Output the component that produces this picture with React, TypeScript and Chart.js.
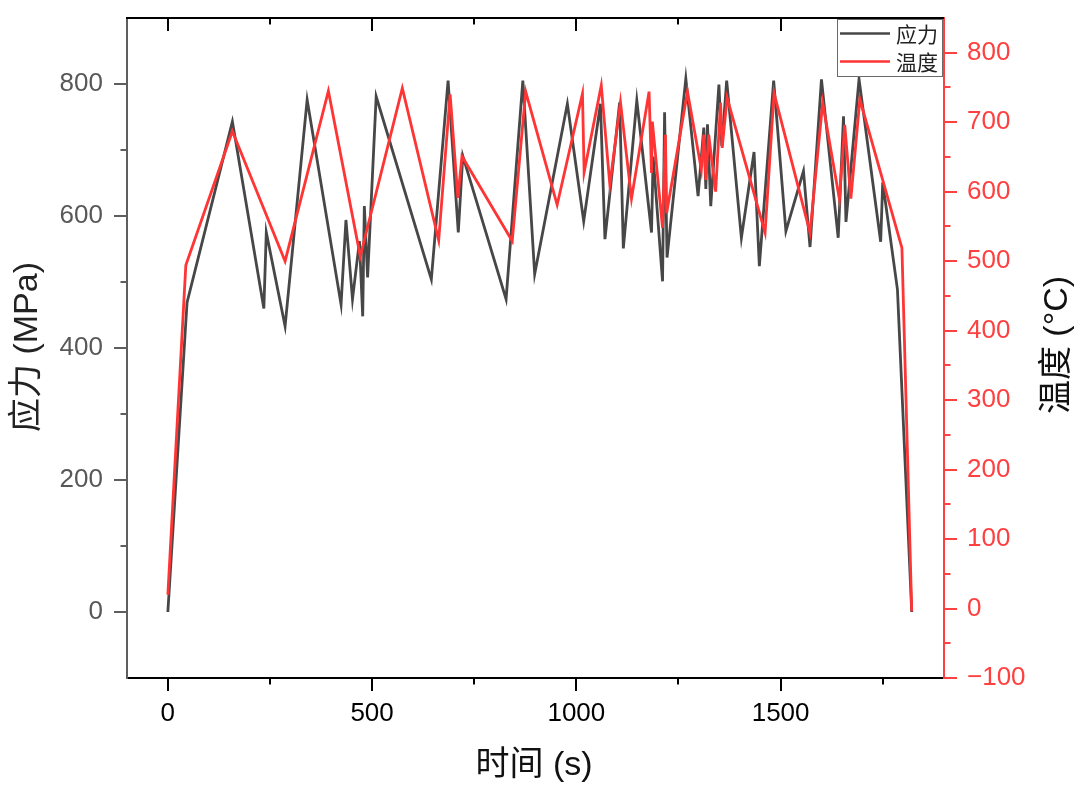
import React, { useEffect, useRef } from 'react';
import { Chart, registerables } from 'chart.js';

Chart.register(...registerables);

// Stress record: time (s) and stress (MPa)
const stressTime = [0, 47, 158, 235, 241, 287, 341, 424, 436, 452, 469, 477, 481, 489, 510, 645, 686, 711, 722, 828, 869, 898, 978, 1018, 1059, 1070, 1106, 1115, 1148, 1184, 1188, 1211, 1216, 1222, 1268, 1298, 1312, 1317, 1321, 1329, 1349, 1356, 1368, 1404, 1435, 1448, 1483, 1513, 1556, 1572, 1600, 1641, 1654, 1660, 1692, 1745, 1750, 1786, 1821];
const stressValues = [0, 469, 743, 460, 575, 433, 776, 466, 594, 474, 562, 448, 615, 507, 781, 504, 805, 575, 691, 474, 805, 512, 770, 592, 770, 565, 772, 551, 775, 575, 690, 501, 757, 537, 808, 630, 734, 641, 739, 615, 799, 706, 805, 567, 697, 524, 805, 577, 668, 553, 807, 567, 751, 591, 807, 561, 651, 489, 0];

// Temperature record: time (s) and temperature (°C)
const tempTime = [0, 44, 158, 287, 393, 471, 574, 663, 691, 710, 720, 843, 876, 953, 1015, 1019, 1061, 1082, 1108, 1135, 1178, 1184, 1186, 1211, 1218, 1221, 1272, 1306, 1312, 1317, 1324, 1341, 1353, 1357, 1369, 1462, 1484, 1572, 1603, 1644, 1657, 1672, 1694, 1797, 1821];
const tempValues = [20, 494, 687, 500, 745, 507, 749, 530, 740, 591, 651, 529, 744, 581, 741, 628, 753, 610, 729, 590, 744, 627, 701, 548, 682, 569, 744, 632, 682, 617, 682, 600, 728, 663, 735, 541, 742, 541, 728, 589, 696, 590, 733, 519, -4];

// Axis ticks
const timeMajorTicks = [0, 500, 1000, 1500];
const timeMinorTicks = [250, 750, 1250, 1750];
const stressMajorTicks = [0, 200, 400, 600, 800];
const stressMinorTicks = [100, 300, 500, 700];
const tempMajorTicks = [-100, 0, 100, 200, 300, 400, 500, 600, 700, 800];
const tempMinorTicks = [-50, 50, 150, 250, 350, 450, 550, 650, 750];

const seriesNames = ['应力', '温度'];
const titleStress = '应力 (MPa)';
const titleTemp = '温度 (°C)';
const titleTime = '时间 (s)';

const STRESS_COLOR = '#474747';
const TEMP_COLOR = '#ff3535';
const LEFT_AXIS_COLOR = '#5e5e5e';
const RIGHT_AXIS_COLOR = '#ff4040';
const LATIN = "'Liberation Sans', Arial, 'Noto Sans CJK SC', sans-serif";
const CJK = "'Noto Sans CJK SC', 'Liberation Sans', sans-serif";

const MAJOR_LEN = 13;
const MINOR_LEN = 6.5;

const frame = {
  id: 'frame',
  afterDraw(chart: any) {
    const { ctx, chartArea: a, scales } = chart;
    const xs = scales.x;
    const yl = scales.y;
    const yr = scales.y1;
    const seg = (x1: number, y1: number, x2: number, y2: number) => {
      ctx.beginPath();
      ctx.moveTo(x1, y1);
      ctx.lineTo(x2, y2);
      ctx.stroke();
    };
    ctx.save();
    ctx.lineWidth = 2;

    // top frame line and time ticks (outward at bottom, inward at top)
    ctx.strokeStyle = '#000';
    seg(a.left - 1, a.top, a.right, a.top);
    const drawTime = (vals: number[], len: number) => {
      vals.forEach((v) => {
        const p = Math.round(xs.getPixelForValue(v));
        seg(p, a.bottom, p, a.bottom + len);
        seg(p, a.top, p, a.top + len);
      });
    };
    drawTime(timeMajorTicks, MAJOR_LEN);
    drawTime(timeMinorTicks, MINOR_LEN);

    // stress ticks
    ctx.strokeStyle = LEFT_AXIS_COLOR;
    stressMajorTicks.forEach((v) => {
      const p = Math.round(yl.getPixelForValue(v));
      seg(a.left, p, a.left - MAJOR_LEN, p);
    });
    stressMinorTicks.forEach((v) => {
      const p = Math.round(yl.getPixelForValue(v));
      seg(a.left, p, a.left - MINOR_LEN, p);
    });

    // temperature ticks
    ctx.strokeStyle = RIGHT_AXIS_COLOR;
    tempMajorTicks.forEach((v) => {
      const p = Math.round(yr.getPixelForValue(v));
      seg(a.right, p, a.right + MAJOR_LEN, p);
    });
    tempMinorTicks.forEach((v) => {
      const p = Math.round(yr.getPixelForValue(v));
      seg(a.right, p, a.right + MINOR_LEN, p);
    });

    // axis titles
    ctx.textAlign = 'center';
    ctx.textBaseline = 'middle';
    ctx.font = `34px ${LATIN}`;
    ctx.fillStyle = '#222';
    ctx.save();
    ctx.translate(28, 347);
    ctx.rotate(-Math.PI / 2);
    ctx.fillText(titleStress, 0, 0);
    ctx.restore();
    ctx.fillStyle = '#111';
    ctx.save();
    ctx.translate(1058, 345);
    ctx.rotate(-Math.PI / 2);
    ctx.fillText(titleTemp, 0, 0);
    ctx.restore();
    ctx.fillText(titleTime, 534, 766);

    // legend
    const lx = 837.5, ly = 19.5, lw = 105, lh = 57;
    ctx.fillStyle = '#fff';
    ctx.fillRect(lx, ly, lw, lh);
    ctx.lineWidth = 1;
    ctx.strokeStyle = '#6a6a6a';
    ctx.strokeRect(lx, ly, lw, lh);
    ctx.lineWidth = 2.6;
    ctx.strokeStyle = STRESS_COLOR;
    seg(840, 33.5, 890, 33.5);
    ctx.strokeStyle = TEMP_COLOR;
    seg(840, 61.5, 890, 61.5);
    ctx.font = `21px ${CJK}`;
    ctx.fillStyle = '#222';
    ctx.textAlign = 'left';
    ctx.fillText(seriesNames[0], 896, 34);
    ctx.fillText(seriesNames[1], 896, 62);

    ctx.restore();
  },
};

const fmt = (v: number) => (v < 0 ? '\u2212' + Math.abs(v) : String(v));

const noPad = (s: any) => {
  s.paddingTop = 0;
  s.paddingBottom = 0;
  s.paddingLeft = 0;
  s.paddingRight = 0;
};

export default function App() {
  const ref = useRef<HTMLCanvasElement | null>(null);

  useEffect(() => {
    if (!ref.current) return;
    const chart = new Chart(ref.current, {
      type: 'scatter',
      data: {
        datasets: [
          {
            label: seriesNames[0],
            data: stressTime.map((t, i) => ({ x: t, y: stressValues[i] })),
            showLine: true,
            borderColor: STRESS_COLOR,
            borderWidth: 2.8,
            pointRadius: 0,
            pointHoverRadius: 0,
            yAxisID: 'y',
            order: 1,
          },
          {
            label: seriesNames[1],
            data: tempTime.map((t, i) => ({ x: t, y: tempValues[i] })),
            showLine: true,
            borderColor: TEMP_COLOR,
            borderWidth: 2.8,
            pointRadius: 0,
            pointHoverRadius: 0,
            yAxisID: 'y1',
            order: 0,
          },
        ],
      },
      options: {
        animation: false,
        responsive: false,
        devicePixelRatio: 1,
        events: [],
        layout: { padding: { top: 18, left: 0, right: 0, bottom: 0 } },
        plugins: { legend: { display: false }, tooltip: { enabled: false } },
        scales: {
          x: {
            type: 'linear',
            position: 'bottom',
            min: -100,
            max: 1900,
            afterBuildTicks: (s: any) => {
              s.ticks = timeMajorTicks.map((v) => ({ value: v }));
            },
            afterFit: (s: any) => {
              s.height = 109;
              noPad(s);
            },
            grid: { display: false, drawTicks: false },
            border: { display: true, color: '#000', width: 2 },
            ticks: {
              color: '#000',
              padding: 20,
              maxRotation: 0,
              autoSkip: false,
              font: { family: LATIN, size: 26 },
              callback: (v: any) => fmt(Number(v)),
            },
          },
          y: {
            type: 'linear',
            position: 'left',
            min: -100,
            max: 900,
            afterBuildTicks: (s: any) => {
              s.ticks = stressMajorTicks.map((v) => ({ value: v }));
            },
            afterFit: (s: any) => {
              s.width = 127;
              noPad(s);
            },
            grid: { display: false, drawTicks: false },
            border: { display: true, color: LEFT_AXIS_COLOR, width: 2 },
            ticks: {
              color: '#585858',
              padding: 24,
              autoSkip: false,
              font: { family: LATIN, size: 26 },
              callback: (v: any) => fmt(Number(v)),
            },
          },
          y1: {
            type: 'linear',
            position: 'right',
            min: -100,
            max: 850,
            afterBuildTicks: (s: any) => {
              s.ticks = tempMajorTicks.map((v) => ({ value: v }));
            },
            afterFit: (s: any) => {
              s.width = 136;
              noPad(s);
            },
            grid: { display: false, drawTicks: false },
            border: { display: true, color: RIGHT_AXIS_COLOR, width: 2 },
            ticks: {
              color: RIGHT_AXIS_COLOR,
              padding: 23,
              autoSkip: false,
              font: { family: LATIN, size: 26 },
              callback: (v: any) => fmt(Number(v)),
            },
          },
        },
      },
      plugins: [frame],
    });
    return () => chart.destroy();
  }, []);

  return (
    <div style={{ position: 'absolute', left: 0, top: 0, width: 1080, height: 787, background: '#fff' }}>
      <canvas ref={ref} width={1080} height={787} style={{ width: 1080, height: 787, display: 'block' }} />
    </div>
  );
}
